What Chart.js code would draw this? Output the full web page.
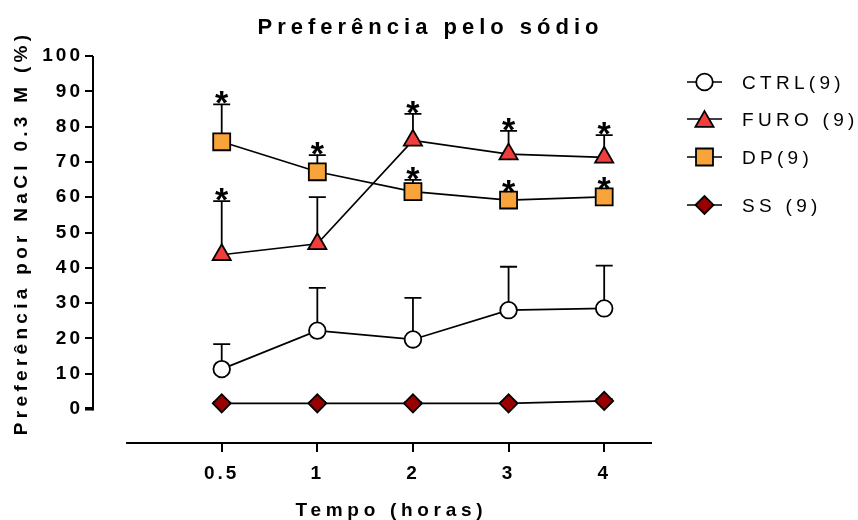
<!DOCTYPE html>
<html lang="pt">
<head>
<meta charset="utf-8">
<title>Preferência pelo sódio</title>
<script src="https://cdn.jsdelivr.net/npm/chart.js@4.4.1/dist/chart.umd.min.js"></script>
<style>
  html, body { margin: 0; padding: 0; background: #fff; }
  #wrap { width: 858px; height: 520px; }
</style>
</head>
<body>
<div id="wrap"><canvas id="chart" width="858" height="520"></canvas></div>
<script>
// ---- data ----------------------------------------------------------------
const timeLabels = ['0.5', '1', '2', '3', '4'];
const seriesNames = ['CTRL(9)', 'FURO (9)', 'DP(9)', 'SS (9)'];

const ctrlMean = [11.3, 22.2, 19.7, 28.0, 28.5];
const ctrlSem  = [7.1, 12.1, 11.8, 12.3, 12.1];

const furoMean = [43.7, 46.8, 76.1, 72.2, 71.3];
const furoSem  = [15.2, 13.2, 7.5, 6.6, 6.3];

const dpMean = [75.7, 67.2, 61.6, 59.2, 60.1];
const dpSem  = [10.6, 4.7, 3.3, 2.1, 1.9];

const ssMean = [1.6, 1.6, 1.6, 1.6, 2.3];
const ssSem  = [0.4, 0.4, 0.4, 0.4, 0.5];

// significance marks printed above each error bar
const ctrlSig = ['', '', '', '', ''];
const furoSig = ['*', '', '*', '*', '*'];
const dpSig   = ['*', '*', '*', '*', '*'];
const ssSig   = ['', '', '', '', ''];

const yTickValues = [0, 10, 20, 30, 40, 50, 60, 70, 80, 90, 100];

const titleText = 'Preferência pelo sódio';
const xTitleText = 'Tempo (horas)';
const yTitleText = 'Preferência por NaCl 0.3 M (%)';

// ---- helpers -------------------------------------------------------------
const FONT = '"Liberation Sans", Arial, Helvetica, sans-serif';
const semBySeries = [ctrlSem, furoSem, dpSem, ssSem];
const sigBySeries = [ctrlSig, furoSig, dpSig, ssSig];
const toPoints = arr => arr.map((v, i) => ({ x: i + 1, y: v }));

function drawSpaced(ctx, text, x, y, spacing, align) {
  ctx.save();
  if ('letterSpacing' in ctx) ctx.letterSpacing = '0px';
  const base = ctx.measureText(text).width;
  const ink = base + spacing * (Array.from(text).length - 1);
  let sx = align === 'center' ? x - ink / 2 : (align === 'right' ? x - ink : x);
  ctx.textAlign = 'left';
  if ('letterSpacing' in ctx) {
    ctx.letterSpacing = spacing + 'px';
    ctx.fillText(text, sx, y);
  } else {
    for (const ch of text) {
      ctx.fillText(ch, sx, y);
      sx += ctx.measureText(ch).width + spacing;
    }
  }
  ctx.restore();
}

function marker(ctx, style, radius, bg, x, y) {
  ctx.save();
  ctx.fillStyle = bg;
  ctx.strokeStyle = '#000';
  ctx.lineWidth = 1.8;
  if (Chart.helpers && Chart.helpers.drawPoint) {
    Chart.helpers.drawPoint(ctx, { pointStyle: style, radius: radius, borderWidth: 1.8, rotation: 0 }, x, y);
  } else {
    ctx.beginPath();
    if (style === 'circle') ctx.arc(x, y, radius, 0, Math.PI * 2);
    else if (style === 'rect') { const s = radius * Math.SQRT1_2; ctx.rect(x - s, y - s, 2 * s, 2 * s); }
    else if (style === 'rectRot') { ctx.moveTo(x, y - radius); ctx.lineTo(x + radius, y); ctx.lineTo(x, y + radius); ctx.lineTo(x - radius, y); ctx.closePath(); }
    else if (style === 'triangle') { ctx.moveTo(x, y - radius); ctx.lineTo(x + radius * 0.866, y + radius / 2); ctx.lineTo(x - radius * 0.866, y + radius / 2); ctx.closePath(); }
    ctx.fill(); ctx.stroke();
  }
  ctx.restore();
}

// ---- series --------------------------------------------------------------
const seriesStyle = [
  { pointStyle: 'circle',   radius: 8.3,  color: '#ffffff' },
  { pointStyle: 'triangle', radius: 10.5, color: '#f23d3d' },
  { pointStyle: 'rect',     radius: 12,   color: '#f9a33b' },
  { pointStyle: 'rectRot',  radius: 9,    color: '#9b0000' }
];
const means = [ctrlMean, furoMean, dpMean, ssMean];

const datasets = means.map((m, i) => ({
  label: seriesNames[i],
  data: toPoints(m),
  borderColor: '#000',
  borderWidth: 1.7,
  pointStyle: seriesStyle[i].pointStyle,
  pointRadius: seriesStyle[i].radius,
  pointHoverRadius: seriesStyle[i].radius,
  pointBackgroundColor: seriesStyle[i].color,
  pointBorderColor: '#000',
  pointBorderWidth: 1.8,
  tension: 0,
  fill: false,
  clip: false
}));

// ---- decorations: offset axes, error bars, asterisks, titles, legend -----
const prismDecor = {
  id: 'prismDecor',
  beforeDraw(chart) {
    if ('letterSpacing' in chart.ctx) chart.ctx.letterSpacing = '3px';
  },
  beforeDatasetsDraw(chart) {
    const { ctx, chartArea, scales: { x, y } } = chart;
    ctx.save();
    if ('letterSpacing' in ctx) ctx.letterSpacing = '0px';
    ctx.strokeStyle = '#000';
    // y axis spans 0..100 only
    ctx.lineWidth = 2;
    ctx.beginPath();
    ctx.moveTo(chartArea.left, y.getPixelForValue(yTickValues[yTickValues.length - 1]));
    ctx.lineTo(chartArea.left, y.getPixelForValue(0) + 1.5);
    ctx.stroke();
    // x axis starts at 0 on the time scale
    ctx.beginPath();
    ctx.moveTo(x.getPixelForValue(0), chartArea.bottom);
    ctx.lineTo(chartArea.right, chartArea.bottom);
    ctx.stroke();
    // upper SEM bars
    ctx.lineWidth = 1.8;
    chart.data.datasets.forEach((ds, di) => {
      const sem = semBySeries[di];
      ds.data.forEach((p, i) => {
        const px = x.getPixelForValue(p.x);
        const py = y.getPixelForValue(p.y);
        const pt = y.getPixelForValue(p.y + sem[i]);
        ctx.beginPath();
        ctx.moveTo(px, py);
        ctx.lineTo(px, pt);
        ctx.moveTo(px - 8.5, pt);
        ctx.lineTo(px + 8.5, pt);
        ctx.stroke();
      });
    });
    ctx.restore();
  },
  afterDatasetsDraw(chart) {
    const { ctx, scales: { x, y } } = chart;
    ctx.save();
    if ('letterSpacing' in ctx) ctx.letterSpacing = '0px';
    ctx.fillStyle = '#000';
    ctx.font = 'bold 34px ' + FONT;
    ctx.textAlign = 'center';
    ctx.textBaseline = 'alphabetic';
    const m = ctx.measureText('*');
    const half = (m.actualBoundingBoxAscent - m.actualBoundingBoxDescent) / 2;
    chart.data.datasets.forEach((ds, di) => {
      const sem = semBySeries[di], sig = sigBySeries[di];
      ds.data.forEach((p, i) => {
        if (!sig[i]) return;
        const px = x.getPixelForValue(p.x);
        const pt = y.getPixelForValue(p.y + sem[i]);
        ctx.fillText(sig[i], px, pt - 6.5 + half);
      });
    });
    ctx.restore();
  },
  afterDraw(chart) {
    const { ctx, chartArea, scales: { x, y } } = chart;
    ctx.save();
    ctx.fillStyle = '#000';
    ctx.textBaseline = 'alphabetic';

    // main title
    ctx.font = 'bold 22px ' + FONT;
    drawSpaced(ctx, titleText, 428, 26 + 0.358 * 22, 5, 'center');

    // x axis title
    ctx.font = 'bold 19px ' + FONT;
    const xMid = (x.getPixelForValue(0) + chartArea.right) / 2;
    drawSpaced(ctx, xTitleText, xMid, 509 + 0.358 * 19, 4.7, 'center');

    // y axis title (rotated)
    ctx.save();
    ctx.translate(20, 235);
    ctx.rotate(-Math.PI / 2);
    drawSpaced(ctx, yTitleText, 0, 0.358 * 19, 4.3, 'center');
    ctx.restore();

    // legend
    const rows = [82, 119, 157, 205];
    chart.data.datasets.forEach((ds, i) => {
      const ry = rows[i];
      ctx.save();
      ctx.strokeStyle = '#000';
      ctx.lineWidth = 1.7;
      ctx.beginPath();
      ctx.moveTo(687, ry);
      ctx.lineTo(722, ry);
      ctx.stroke();
      ctx.restore();
      const st = seriesStyle[i];
      const dy = st.pointStyle === 'triangle' ? st.radius / 4 : 0;
      marker(ctx, st.pointStyle, st.radius, st.color, 704.5, ry + dy);
      ctx.font = '19px ' + FONT;
      drawSpaced(ctx, ds.label, 742, ry + 0.358 * 19, 4.3, 'left');
    });
    ctx.restore();
    if ('letterSpacing' in ctx) ctx.letterSpacing = '0px';
  }
};

// ---- chart ---------------------------------------------------------------
new Chart(document.getElementById('chart'), {
  type: 'line',
  data: { datasets: datasets },
  plugins: [prismDecor],
  options: {
    responsive: false,
    animation: false,
    devicePixelRatio: 1,
    events: [],
    layout: { padding: { left: 0, top: 56, right: 206, bottom: 0 } },
    plugins: {
      legend: { display: false },
      title: { display: false },
      tooltip: { enabled: false }
    },
    scales: {
      x: {
        type: 'linear',
        min: -0.346,
        max: 5.5,
        afterBuildTicks: s => { s.ticks = timeLabels.map((_, i) => ({ value: i + 1 })); },
        afterFit: s => { s.height = 77; },
        ticks: {
          callback: v => timeLabels[v - 1],
          color: '#000',
          font: { family: FONT, size: 19, weight: 'bold' },
          padding: 10,
          maxRotation: 0,
          autoSkip: false
        },
        grid: { drawOnChartArea: false, drawTicks: true, tickLength: 9, color: '#000', lineWidth: 2 },
        border: { display: false }
      },
      y: {
        type: 'linear',
        min: -9.63,
        max: 100,
        afterBuildTicks: s => { s.ticks = yTickValues.map(v => ({ value: v })); },
        afterFit: s => { s.width = 93; },
        ticks: {
          color: '#000',
          font: { family: FONT, size: 19, weight: 'bold' },
          padding: 2
        },
        grid: {
          drawOnChartArea: false,
          drawTicks: true,
          tickLength: 8,
          color: '#000',
          lineWidth: c => (c.tick && c.tick.value === 0 ? 3.5 : 2)
        },
        border: { display: false }
      }
    }
  }
});
</script>
</body>
</html>
